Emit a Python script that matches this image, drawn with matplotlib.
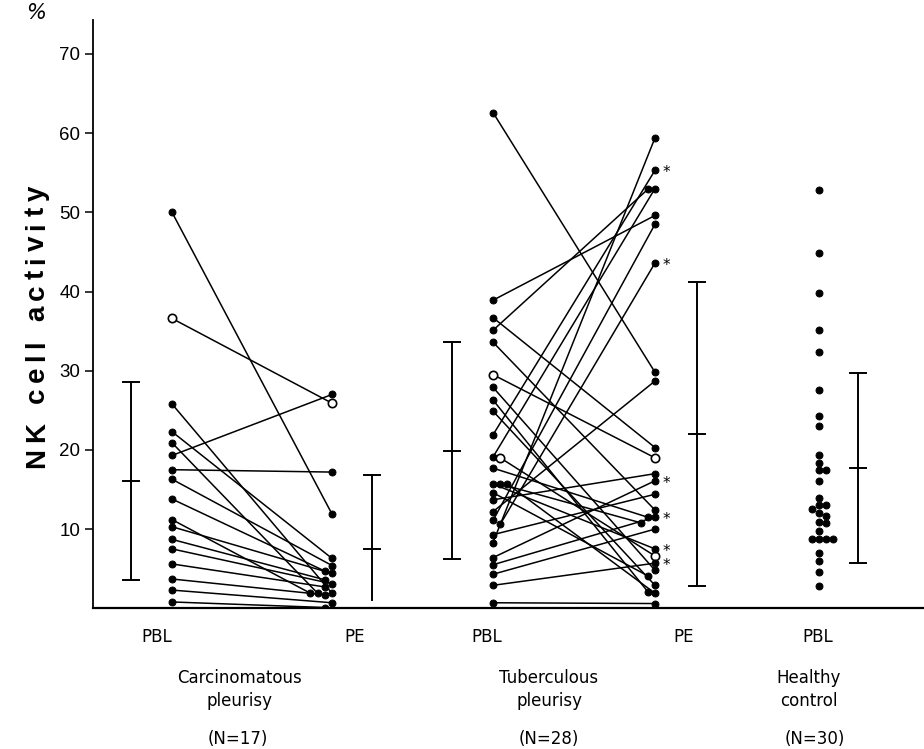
import matplotlib
matplotlib.use("Agg")
import matplotlib.pyplot as plt

# ---------------- data (NK cell activity, %) ----------------
carc_pbl = [50.0, 36.6, 25.8, 22.3, 20.9, 19.3, 17.5, 16.3, 13.8, 11.2, 10.3, 8.7, 7.5, 5.6, 3.7, 2.3, 0.8]
carc_pe = [11.9, 25.9, 1.9, 6.3, 1.9, 27.0, 17.2, 5.4, 4.7, 1.9, 4.4, 3.6, 3.1, 2.7, 1.7, 0.7, 0.1]
carc_open = [False, True, False, False, False, False, False, False, False, False, False, False, False, False, False, False, False]

tub_pbl = [62.6, 38.9, 36.7, 35.1, 33.6, 29.5, 27.9, 26.3, 24.9, 21.9, 19.1, 19.0, 17.7, 15.7, 15.7, 15.7,
           14.6, 13.7, 12.2, 11.1, 10.6, 9.3, 8.3, 6.4, 5.5, 4.3, 2.9, 0.7]
tub_pe = [29.8, 49.6, 20.3, 52.9, 12.4, 19.0, 4.8, 2.1, 2.9, 55.3, 53.0, 6.6, 11.5, 7.5, 10.8, 1.9,
          4.1, 17.0, 28.7, 48.5, 43.6, 14.4, 59.4, 16.1, 11.5, 10.0, 5.7, 0.6]
tub_open = [False, False, False, False, False, True, False, False, False, False, False, True, False, False, False, False,
            False, False, False, False, False, False, False, False, False, False, False, False]
tub_star = [False, False, False, False, False, False, False, False, False, True, False, False, False, True, False, False,
            False, False, False, False, True, False, False, True, True, False, True, False]

healthy = [52.8, 44.8, 39.8, 35.1, 32.3, 27.6, 24.3, 23.0, 19.4, 18.4, 17.5, 17.5, 16.1, 13.9, 13.1, 13.0,
           12.6, 12.0, 11.7, 10.9, 10.8, 9.7, 8.8, 8.8, 8.8, 8.8, 7.0, 6.0, 4.6, 2.8]

# mean and SD for each column
stat_mean = [16.1, 7.5, 19.9, 22.0, 17.7]
stat_sd = [12.5, 9.3, 13.7, 19.2, 12.0]

x_labels = ["PBL", "PE", "PBL", "PE", "PBL"]
group_labels = ["Carcinomatous\npleurisy", "Tuberculous\npleurisy", "Healthy\ncontrol"]
group_n = ["(N=17)", "(N=28)", "(N=30)"]
y_ticks = [10, 20, 30, 40, 50, 60, 70]

# ---------------- layout ----------------
W, H = 924, 749
Y0 = 608.3          # pixel row of value 0
PXU = 7.92          # pixels per unit
YTOP = 20.0
XL = 93.0
col_x = [172, 332, 493, 655, 819]
bar_x = [131, 372, 452, 697, 858]
D = 7.2

fig = plt.figure(figsize=(W / 100, H / 100), dpi=100)
ax = fig.add_axes([XL / W, (H - Y0) / H, (W - XL) / W, (Y0 - YTOP) / H])
ax.set_xlim(XL, W)
ax.set_ylim(0, (Y0 - YTOP) / PXU)
for s in ("top", "right"):
    ax.spines[s].set_visible(False)
ax.spines["left"].set_linewidth(1.3)
ax.spines["bottom"].set_linewidth(1.6)
ax.set_xticks([])
ax.set_yticks(y_ticks)
ax.set_yticklabels([str(t) for t in y_ticks], fontsize=13.5, family="Liberation Sans")
ax.tick_params(axis="y", length=6, width=1.1, direction="out", pad=3)


def dodge(vals, x0, mode, prio=None):
    placed = []
    xs = [0.0] * len(vals)
    order = sorted(range(len(vals)),
                   key=lambda i: (0 if (prio is not None and prio[i]) else 1, -vals[i]))
    for i in order:
        y = vals[i] * PXU
        if mode == 0:
            cands = [0.0] + [s * k * D for k in range(1, 10) for s in (1, -1)]
        else:
            cands = [mode * k * D for k in range(12)]
        x = x0
        for c in cands:
            x = x0 + c
            if all((x - px) ** 2 + (y - py) ** 2 >= (D * 0.92) ** 2 for px, py in placed):
                break
        placed.append((x, y))
        xs[i] = x
    return xs


def draw_dot(x, y, is_open):
    if is_open:
        ax.plot(x, y, "o", ms=6.0, mfc="white", mec="black", mew=1.2, zorder=4)
    else:
        ax.plot(x, y, "o", ms=5.0, mfc="black", mec="black", mew=0.7, zorder=4)


def paired(pbl, pe, opens, xa, xb, stars=None):
    xs_a = dodge(pbl, xa, 1)
    xs_b = dodge(pe, xb, -1, stars)
    for i in range(len(pbl)):
        ax.plot([xs_a[i], xs_b[i]], [pbl[i], pe[i]], color="black", lw=1.1, zorder=2)
        draw_dot(xs_a[i], pbl[i], opens[i])
        draw_dot(xs_b[i], pe[i], opens[i])
        if stars is not None and stars[i]:
            ax.text(xs_b[i] + 11, pe[i] - 0.3, "*", fontsize=11, ha="center", va="center",
                    family="DejaVu Sans")


paired(carc_pbl, carc_pe, carc_open, col_x[0], col_x[1])
paired(tub_pbl, tub_pe, tub_open, col_x[2], col_x[3], tub_star)

hx = dodge(healthy, col_x[4], 0)
for x, v in zip(hx, healthy):
    draw_dot(x, v, False)

# mean +/- SD bars
for bx, m, sd in zip(bar_x, stat_mean, stat_sd):
    lo = m - sd
    clipped = lo < 1.0
    lo = max(lo, 1.0)
    hi = m + sd
    ax.plot([bx, bx], [lo, hi], color="black", lw=1.4, zorder=3)
    ax.plot([bx - 8, bx + 8], [hi, hi], color="black", lw=1.4, zorder=3)
    ax.plot([bx - 8, bx + 8], [m, m], color="black", lw=1.4, zorder=3)
    if not clipped:
        ax.plot([bx - 8, bx + 8], [lo, lo], color="black", lw=1.4, zorder=3)

# ---------------- texts ----------------
lab_x = [157, 355, 487, 684, 818]
lab_font = "DejaVu Sans"
for lx, t in zip(lab_x, x_labels):
    fig.text(lx / W, 1 - 637 / H, t, ha="center", va="center", fontsize=12, family=lab_font)

grp_x = [240, 549, 809]
grp_n_x = [238, 549, 815]
for gx, nx, g, n in zip(grp_x, grp_n_x, group_labels, group_n):
    l1, l2 = g.split("\n")
    fig.text(gx / W, 1 - 678 / H, l1, ha="center", va="center", fontsize=12, family=lab_font)
    fig.text(gx / W, 1 - 701 / H, l2, ha="center", va="center", fontsize=12, family=lab_font)
    fig.text(nx / W, 1 - 739 / H, n, ha="center", va="center", fontsize=12, family=lab_font)


# y-axis title drawn with letter spacing (vertical, reading bottom to top)
def tracked_vertical(text, xc, yc, size, total_px, family="Liberation Sans"):
    r = fig.canvas.get_renderer()

    def wid(s):
        t = fig.text(0, 0, s, fontsize=size, fontweight="bold", family=family)
        w = t.get_window_extent(renderer=r).width
        t.remove()
        return w

    ws = []
    for ch in text:
        if ch == " ":
            ws.append(wid("n n") - wid("nn"))
        else:
            ws.append(wid(ch))
    extra = (total_px - sum(ws)) / (len(text) - 1)
    bottom = yc + total_px / 2.0
    cum = 0.0
    for ch, w in zip(text, ws):
        cy = bottom - (cum + w / 2.0)
        if ch != " ":
            fig.text(xc / W, 1 - cy / H, ch, rotation=90, ha="center", va="center",
                     fontsize=size, fontweight="bold", family=family)
        cum += w + extra


tracked_vertical("NK cell activity", 37, 327, 20, 282)
fig.text(36 / W, 1 - 13 / H, "%", ha="center", va="center", fontsize=15, style="italic",
         family="DejaVu Sans")

fig.savefig("out.png", dpi=100)
